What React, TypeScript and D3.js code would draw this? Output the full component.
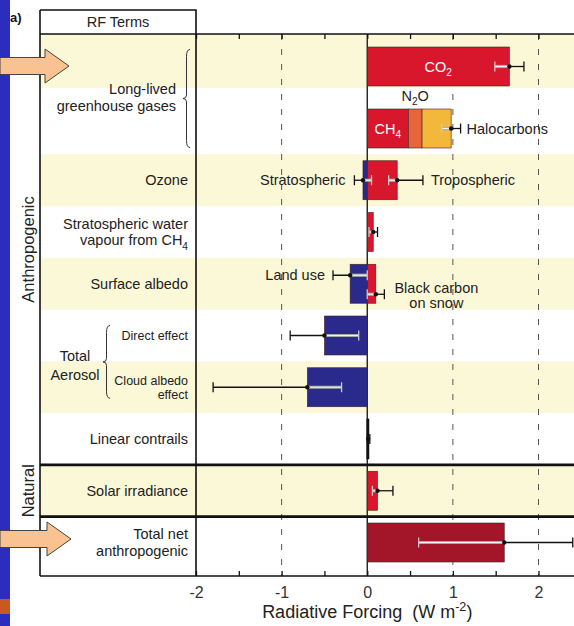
import React, { useRef, useEffect } from 'react';
import * as d3 from 'd3';

const WIDTH = 574;
const HEIGHT = 626;
const FONT = "'Liberation Sans', Arial, Helvetica, sans-serif";

// rows of the chart, top to bottom
const rowIds = ['co2', 'llghg', 'ozone', 'h2o', 'albedo', 'direct', 'cloud', 'contrails', 'solar', 'total'];

// pieces of each bar (W m-2)
const barPieces = [
  { row: 'co2', from: 0, to: 1.66, kind: 'warm' },
  { row: 'llghg', from: 0, to: 0.48, kind: 'warm' },
  { row: 'llghg', from: 0.48, to: 0.64, kind: 'n2o' },
  { row: 'llghg', from: 0.64, to: 0.98, kind: 'halo' },
  { row: 'ozone', from: -0.05, to: 0, kind: 'cool' },
  { row: 'ozone', from: 0, to: 0.35, kind: 'warm' },
  { row: 'h2o', from: 0, to: 0.07, kind: 'warm' },
  { row: 'albedo', from: -0.2, to: 0, kind: 'cool' },
  { row: 'albedo', from: 0, to: 0.1, kind: 'warm' },
  { row: 'direct', from: -0.5, to: 0, kind: 'cool' },
  { row: 'cloud', from: -0.7, to: 0, kind: 'cool' },
  { row: 'contrails', from: 0, to: 0.01, kind: 'warm' },
  { row: 'solar', from: 0, to: 0.12, kind: 'warm' },
  { row: 'total', from: 0, to: 1.6, kind: 'net' },
];

// best estimates with uncertainty ranges
const uncertainties = [
  { row: 'co2', lane: 'mid', value: 1.66, lo: 1.49, hi: 1.83 },
  { row: 'llghg', lane: 'mid', value: 0.98, lo: 0.87, hi: 1.09 },
  { row: 'ozone', lane: 'mid', value: -0.05, lo: -0.15, hi: 0.05 },
  { row: 'ozone', lane: 'mid', value: 0.35, lo: 0.25, hi: 0.65 },
  { row: 'h2o', lane: 'mid', value: 0.07, lo: 0.02, hi: 0.12 },
  { row: 'albedo', lane: 'upper', value: -0.2, lo: -0.4, hi: 0.0 },
  { row: 'albedo', lane: 'lower', value: 0.1, lo: 0.0, hi: 0.2 },
  { row: 'direct', lane: 'mid', value: -0.5, lo: -0.9, hi: -0.1 },
  { row: 'cloud', lane: 'mid', value: -0.7, lo: -1.8, hi: -0.3 },
  { row: 'contrails', lane: 'mid', value: 0.01, lo: 0.003, hi: 0.03 },
  { row: 'solar', lane: 'mid', value: 0.12, lo: 0.06, hi: 0.3 },
  { row: 'total', lane: 'mid', value: 1.6, lo: 0.6, hi: 2.4 },
];

// RF term labels in the left column
const termLabels = [
  { row: 'ozone', lines: ['Ozone'], small: false },
  { row: 'h2o', lines: ['Stratospheric water', 'vapour from CH_4'], small: false },
  { row: 'albedo', lines: ['Surface albedo'], small: false },
  { row: 'direct', lines: ['Direct effect'], small: true },
  { row: 'cloud', lines: ['Cloud albedo', 'effect'], small: true },
  { row: 'contrails', lines: ['Linear contrails'], small: false },
  { row: 'solar', lines: ['Solar irradiance'], small: false },
  { row: 'total', lines: ['Total net', 'anthropogenic'], small: false },
];

const xTicks = [-2, -1.5, -1, -0.5, 0, 0.5, 1, 1.5, 2];
const gridValues = [-1, 1, 2];

const colors = {
  warm: '#d8162c',
  cool: '#2a2a8c',
  n2o: '#e8643a',
  halo: '#f3b73a',
  net: '#a3162a',
};

/**
 * Append text with _sub and ^sup parts as tspans
 */
const rich = (textSel, str, size) => {
  let shift = 0;
  str.split(/([_^]-?\d)/).filter(Boolean).forEach(p => {
    let target = 0;
    let s = p;
    let small = false;
    if (p[0] === '_') { target = 0.3; s = p.slice(1); small = true; }
    else if (p[0] === '^') { target = -0.4; s = p.slice(1); small = true; }
    const t = textSel.append('tspan').text(s);
    if (small) t.attr('font-size', size * 0.7);
    const dy = (target - shift) * size;
    if (dy) t.attr('dy', dy);
    shift = target;
  });
};

/**
 * Curly brace opening to the left
 */
const bracePath = (x, y0, y1, w) => {
  const m = (y0 + y1) / 2;
  const h = w / 2;
  return `M${x + w},${y0} Q${x + h},${y0} ${x + h},${y0 + w}` +
    ` L${x + h},${m - h} Q${x + h},${m} ${x},${m}` +
    ` Q${x + h},${m} ${x + h},${m + h}` +
    ` L${x + h},${y1 - w} Q${x + h},${y1} ${x + w},${y1}`;
};

const arrowPath = (tipX, tipY) =>
  `M0,${tipY - 8.5} L${tipX - 24},${tipY - 8.5} L${tipX - 24},${tipY - 17} L${tipX},${tipY}` +
  ` L${tipX - 24},${tipY + 17} L${tipX - 24},${tipY + 8.5} L0,${tipY + 8.5} Z`;

const RFChart = () => {
  const ref = useRef(null);

  useEffect(() => {
    const svg = d3.select(ref.current);
    svg.selectAll('*').remove();

    const boxLeft = 40;
    const plotLeft = 196;
    const plotTop = 34;
    const plotBottom = 576;
    const barH = 39;
    const textColor = '#222';

    const x = d3.scaleLinear().domain([-2, 2]).range([plotLeft, 538.5]);
    // the two long-lived GHG rows sit further apart than the rest
    const yRest = d3.scalePoint().domain(rowIds.slice(1)).range([128.5, 542.5]);
    const y = (id) => (id === rowIds[0] ? yRest(rowIds[1]) - 62 : yRest(id));
    const laneOffset = { mid: 0, upper: -8.5, lower: 10.5 };

    const bandTop = (i) => {
      if (i === 0) return plotTop;
      if (i === 1) return y(rowIds[0]) + barH / 2 + 2;
      return (y(rowIds[i - 1]) + y(rowIds[i])) / 2;
    };
    const bandBottom = (i) => (i === rowIds.length - 1 ? plotBottom : bandTop(i + 1));

    svg.append('rect').attr('width', WIDTH).attr('height', HEIGHT).attr('fill', '#fff');

    // Alternating row shading
    svg.append('g').selectAll('rect')
      .data(rowIds.filter((d, i) => i % 2 === 0))
      .join('rect')
      .attr('x', boxLeft)
      .attr('width', WIDTH - boxLeft)
      .attr('y', d => bandTop(rowIds.indexOf(d)))
      .attr('height', d => bandBottom(rowIds.indexOf(d)) - bandTop(rowIds.indexOf(d)))
      .attr('fill', '#fbf8d8');

    // Dashed grid
    svg.append('g').selectAll('line')
      .data(gridValues)
      .join('line')
      .attr('x1', d => x(d)).attr('x2', d => x(d))
      .attr('y1', plotTop).attr('y2', plotBottom)
      .attr('stroke', '#555')
      .attr('stroke-width', 1)
      .attr('stroke-dasharray', '6,9');

    // Zero line
    svg.append('line')
      .attr('x1', x(0)).attr('x2', x(0))
      .attr('y1', plotTop).attr('y2', plotBottom)
      .attr('stroke', '#111').attr('stroke-width', 1.3);

    // Bars
    svg.append('g').selectAll('rect')
      .data(barPieces)
      .join('rect')
      .attr('x', d => x(Math.min(d.from, d.to)))
      .attr('width', d => Math.max(Math.abs(x(d.to) - x(d.from)), 1.2))
      .attr('y', d => y(d.row) - barH / 2)
      .attr('height', barH)
      .attr('fill', d => colors[d.kind])
      .attr('stroke', d => (d.row === 'contrails' ? '#111' : '#4a2020'))
      .attr('stroke-width', d => (d.row === 'contrails' ? 1.6 : 0.6));

    // Uncertainty bars
    const rowExtent = (row) => {
      const pcs = barPieces.filter(p => p.row === row);
      return [d3.min(pcs, p => Math.min(p.from, p.to)), d3.max(pcs, p => Math.max(p.from, p.to))];
    };
    const errG = svg.append('g');
    uncertainties.forEach(u => {
      const cy = y(u.row) + laneOffset[u.lane];
      const [e0, e1] = rowExtent(u.row);
      const in0 = Math.max(u.lo, e0);
      const in1 = Math.min(u.hi, e1);
      errG.append('line')
        .attr('x1', x(u.lo)).attr('x2', x(u.hi))
        .attr('y1', cy).attr('y2', cy)
        .attr('stroke', '#111').attr('stroke-width', 1.3);
      if (in1 > in0 && u.row !== 'contrails') {
        errG.append('line')
          .attr('x1', x(in0)).attr('x2', x(in1))
          .attr('y1', cy).attr('y2', cy)
          .attr('stroke', '#a8a8a8').attr('stroke-width', 3.2);
        errG.append('line')
          .attr('x1', x(in0)).attr('x2', x(in1))
          .attr('y1', cy).attr('y2', cy)
          .attr('stroke', '#f2f2f2').attr('stroke-width', 1.2);
      }
      [u.lo, u.hi].forEach(v => {
        const inside = v >= e0 && v <= e1 && u.row !== 'contrails';
        errG.append('line')
          .attr('x1', x(v)).attr('x2', x(v))
          .attr('y1', cy - 5).attr('y2', cy + 5)
          .attr('stroke', inside ? '#c8c8c8' : '#111')
          .attr('stroke-width', 1.3);
      });
      errG.append('circle')
        .attr('cx', x(u.value)).attr('cy', cy)
        .attr('r', 2.2).attr('fill', '#111');
    });

    // Box lines and axes
    const lines = svg.append('g').attr('stroke', '#111').attr('fill', 'none');
    lines.append('path').attr('d', `M${boxLeft},${10} H${plotLeft} V${plotBottom}`).attr('stroke-width', 1.6);
    lines.append('line').attr('x1', boxLeft).attr('x2', boxLeft).attr('y1', 10).attr('y2', plotBottom).attr('stroke-width', 1.6);
    lines.append('line').attr('x1', boxLeft).attr('x2', WIDTH).attr('y1', plotTop).attr('y2', plotTop).attr('stroke-width', 1.6);
    lines.append('line').attr('x1', boxLeft).attr('x2', WIDTH).attr('y1', plotBottom).attr('y2', plotBottom).attr('stroke-width', 1.6);
    [bandTop(rowIds.indexOf('solar')), bandBottom(rowIds.indexOf('solar'))].forEach(v => {
      lines.append('line').attr('x1', boxLeft).attr('x2', WIDTH).attr('y1', v).attr('y2', v).attr('stroke-width', 2.6);
    });

    const topAxis = svg.append('g')
      .attr('transform', `translate(0, ${plotTop})`)
      .call(d3.axisTop(x).tickValues(xTicks).tickSize(-5).tickFormat(() => ''));
    topAxis.select('.domain').remove();
    topAxis.selectAll('line').attr('stroke', '#111').attr('stroke-width', 1.3);

    const bottomAxis = svg.append('g')
      .attr('transform', `translate(0, ${plotBottom})`)
      .call(d3.axisBottom(x).tickValues(xTicks).tickSize(-5).tickPadding(11)
        .tickFormat(d => (Number.isInteger(d) ? String(d) : '')));
    bottomAxis.select('.domain').remove();
    bottomAxis.selectAll('line').attr('stroke', '#111').attr('stroke-width', 1.3);
    bottomAxis.selectAll('text')
      .attr('font-family', FONT).attr('font-size', 16).attr('fill', '#333');

    const title = svg.append('text')
      .attr('x', x(0)).attr('y', 618)
      .attr('text-anchor', 'middle')
      .attr('font-family', FONT).attr('font-size', 18).attr('fill', '#222');
    rich(title, 'Radiative Forcing\u00a0\u00a0(W m^-2)', 18);

    // Header and panel label
    svg.append('text')
      .attr('x', (boxLeft + plotLeft) / 2).attr('y', 27)
      .attr('text-anchor', 'middle')
      .attr('font-family', FONT).attr('font-size', 14.5).attr('fill', textColor)
      .text('RF Terms');
    svg.append('text')
      .attr('x', 10).attr('y', 22)
      .attr('font-family', FONT).attr('font-size', 13).attr('font-weight', 'bold').attr('fill', '#111')
      .text('a)');

    // Term labels
    const labelG = svg.append('g')
      .attr('font-family', FONT).attr('fill', textColor);
    termLabels.forEach(t => {
      const size = t.small ? 12.5 : 14.5;
      const lh = t.small ? 14 : 16.5;
      t.lines.forEach((line, i) => {
        const ty = y(t.row) + (i - (t.lines.length - 1) / 2) * lh;
        const el = labelG.append('text')
          .attr('x', 188).attr('y', ty)
          .attr('dy', '0.35em')
          .attr('text-anchor', 'end')
          .attr('font-size', size);
        rich(el, line, size);
      });
    });

    // Long-lived greenhouse gases group
    const llMid = (y('co2') + y('llghg')) / 2;
    ['Long-lived', 'greenhouse gases'].forEach((line, i) => {
      labelG.append('text')
        .attr('x', 176).attr('y', llMid + (i - 0.5) * 17)
        .attr('dy', '0.35em')
        .attr('text-anchor', 'end')
        .attr('font-size', 14.5)
        .text(line);
    });
    svg.append('path')
      .attr('d', bracePath(183, y('co2') - 17, y('llghg') + 19, 7))
      .attr('fill', 'none').attr('stroke', '#333').attr('stroke-width', 1);

    // Total aerosol group
    const aeMid = (y('direct') + y('cloud')) / 2 + 4;
    ['Total', 'Aerosol'].forEach((line, i) => {
      labelG.append('text')
        .attr('x', 75).attr('y', aeMid + (i - 0.5) * 19)
        .attr('dy', '0.35em')
        .attr('text-anchor', 'middle')
        .attr('font-size', 14.5)
        .text(line);
    });
    svg.append('path')
      .attr('d', bracePath(103, y('direct') - 10, y('cloud') + 11, 7))
      .attr('fill', 'none').attr('stroke', '#333').attr('stroke-width', 1);

    // Anthropogenic / Natural
    const vLabel = (txt, y0, y1) => {
      svg.append('text')
        .attr('transform', `translate(28, ${(y0 + y1) / 2}) rotate(-90)`)
        .attr('dy', '0.35em')
        .attr('text-anchor', 'middle')
        .attr('font-family', FONT).attr('font-size', 16.5).attr('fill', textColor)
        .text(txt);
    };
    vLabel('Anthropogenic', plotTop, bandTop(rowIds.indexOf('solar')));
    vLabel('Natural', bandTop(rowIds.indexOf('solar')), bandBottom(rowIds.indexOf('solar')));

    // Labels next to the bars
    const inG = svg.append('g').attr('font-family', FONT).attr('font-size', 14.5);
    const co2 = barPieces[0];
    rich(inG.append('text').attr('x', x((co2.from + co2.to) / 2)).attr('y', y('co2')).attr('dy', '0.35em')
      .attr('text-anchor', 'middle').attr('fill', '#fff'), 'CO_2', 14.5);
    const ch4 = barPieces[1];
    rich(inG.append('text').attr('x', x((ch4.from + ch4.to) / 2)).attr('y', y('llghg')).attr('dy', '0.35em')
      .attr('text-anchor', 'middle').attr('fill', '#fff'), 'CH_4', 14.5);
    const n2o = barPieces[2];
    rich(inG.append('text').attr('x', x((n2o.from + n2o.to) / 2)).attr('y', y('llghg') - barH / 2 - 8)
      .attr('text-anchor', 'middle').attr('fill', textColor), 'N_2O', 14.5);

    const side = (u, txt, anchor, dx, dyLine = 0) =>
      inG.append('text')
        .attr('x', x(anchor === 'end' ? u.lo : u.hi) + dx)
        .attr('y', y(u.row) + laneOffset[u.lane] + dyLine)
        .attr('dy', '0.35em')
        .attr('text-anchor', anchor)
        .attr('fill', textColor)
        .text(txt);
    side(uncertainties[1], 'Halocarbons', 'start', 6);
    side(uncertainties[2], 'Stratospheric', 'end', -9);
    side(uncertainties[3], 'Tropospheric', 'start', 8);
    side(uncertainties[5], 'Land use', 'end', -8);
    side(uncertainties[6], 'Black carbon', 'middle', 52, -6);
    side(uncertainties[6], 'on snow', 'middle', 52, 9);

    // Slide decorations: blue strip and arrows
    svg.append('rect').attr('x', 0).attr('y', 0).attr('width', 10).attr('height', HEIGHT).attr('fill', '#2c2cbf');
    svg.append('rect').attr('x', 0).attr('y', 599).attr('width', 10).attr('height', 15).attr('fill', '#c85a1e');
    [[69, 66], [71, 539]].forEach(([tx, ty]) => {
      svg.append('path')
        .attr('d', arrowPath(tx, ty))
        .attr('fill', '#f9c290').attr('stroke', '#444').attr('stroke-width', 1);
    });
  }, []);

  return <svg ref={ref} width={WIDTH} height={HEIGHT} style={{ position: 'absolute', left: 0, top: 0 }} />;
};

export default function App() {
  return <RFChart />;
}
